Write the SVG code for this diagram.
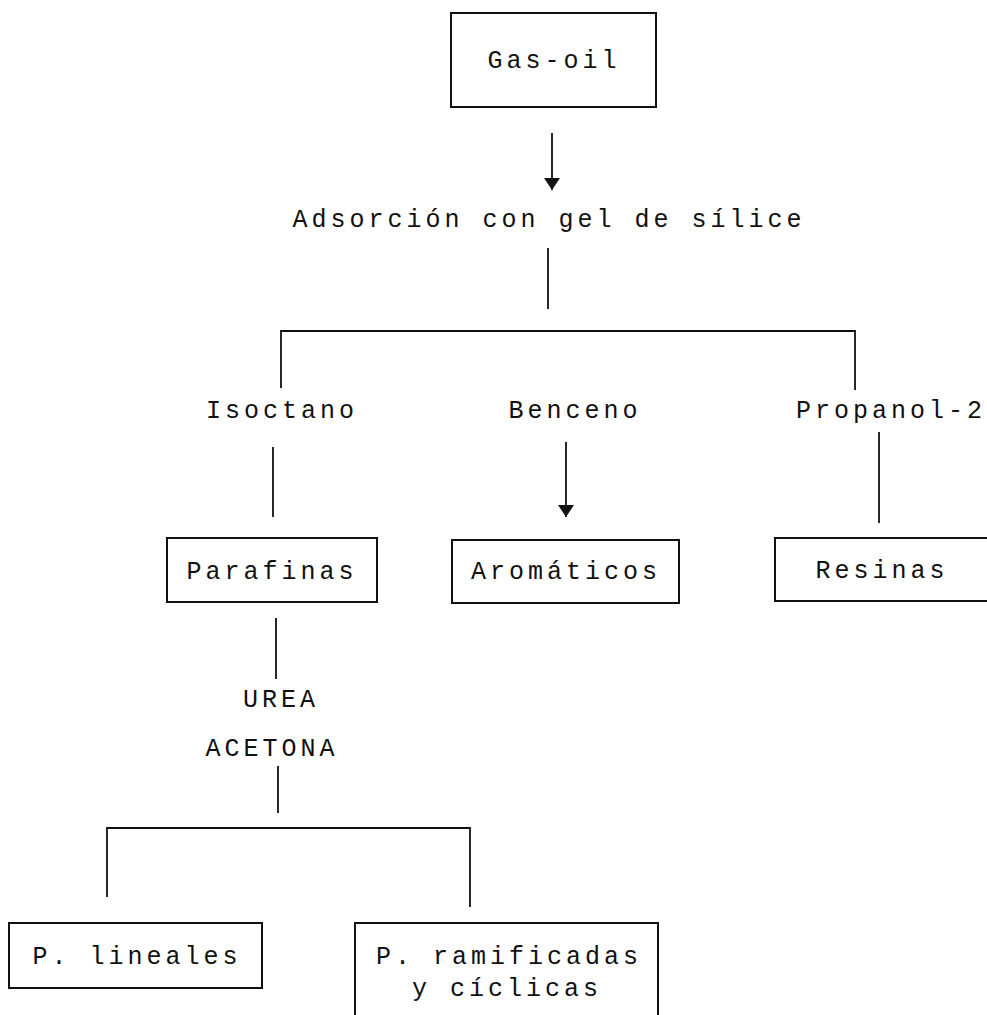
<svg xmlns="http://www.w3.org/2000/svg" width="987" height="1015" viewBox="0 0 987 1015">
<style>
  .bg{fill:#ffffff}
  .box{fill:none;stroke:#111;stroke-width:2}
  .ln{fill:none;stroke:#111;stroke-width:1.8}
  .t{font-family:"Liberation Mono","DejaVu Sans Mono",monospace;font-size:25px;letter-spacing:4px;fill:#111;text-anchor:middle}
</style>
<defs>
  <marker id="arrow" viewBox="0 0 12 16" refX="12" refY="8" markerWidth="12" markerHeight="16" markerUnits="userSpaceOnUse" orient="auto">
    <path d="M0,0 L12,8 L0,16 Z" fill="#111"/>
  </marker>
</defs>
<rect class="bg" x="0" y="0" width="987" height="1015"/>

<g id="connectors">
  <line class="ln" x1="552" y1="133" x2="552" y2="190" marker-end="url(#arrow)"/>
  <line class="ln" x1="548" y1="248" x2="548" y2="309"/>
  <polyline class="ln" points="281,388 281,331 855,331 855,390"/>
  <line class="ln" x1="273" y1="447" x2="273" y2="517"/>
  <line class="ln" x1="566" y1="442" x2="566" y2="517" marker-end="url(#arrow)"/>
  <line class="ln" x1="879" y1="432" x2="879" y2="523"/>
  <line class="ln" x1="276" y1="618" x2="276" y2="679"/>
  <line class="ln" x1="278" y1="766" x2="278" y2="813"/>
  <polyline class="ln" points="107,897 107,828 470,828 470,907"/>
</g>

<g id="gasoil">
  <rect class="box" x="451" y="13" width="205" height="94"/>
  <text class="t" x="554" y="68">Gas-oil</text>
</g>

<g id="adsorcion">
  <text class="t" x="549" y="227">Adsorción con gel de sílice</text>
</g>

<g id="isoctano">
  <text class="t" x="282" y="418">Isoctano</text>
</g>

<g id="benceno">
  <text class="t" x="575" y="418">Benceno</text>
</g>

<g id="propanol">
  <text class="t" x="891" y="418">Propanol-2</text>
</g>

<g id="parafinas">
  <rect class="box" x="167" y="538" width="210" height="64"/>
  <text class="t" x="272" y="579">Parafinas</text>
</g>

<g id="aromaticos">
  <rect class="box" x="452" y="540" width="227" height="63"/>
  <text class="t" x="566" y="579">Aromáticos</text>
</g>

<g id="resinas">
  <rect class="box" x="775" y="538" width="220" height="63"/>
  <text class="t" x="882" y="578">Resinas</text>
</g>

<g id="urea">
  <text class="t" x="281" y="707">UREA</text>
  <text class="t" x="272" y="756">ACETONA</text>
</g>

<g id="lineales">
  <rect class="box" x="9" y="923" width="253" height="65"/>
  <text class="t" x="137" y="964">P. lineales</text>
</g>

<g id="ramificadas">
  <rect class="box" x="355" y="923" width="303" height="100"/>
  <text class="t" x="509" y="964">P. ramificadas</text>
  <text class="t" x="507" y="996">y cíclicas</text>
</g>
</svg>
